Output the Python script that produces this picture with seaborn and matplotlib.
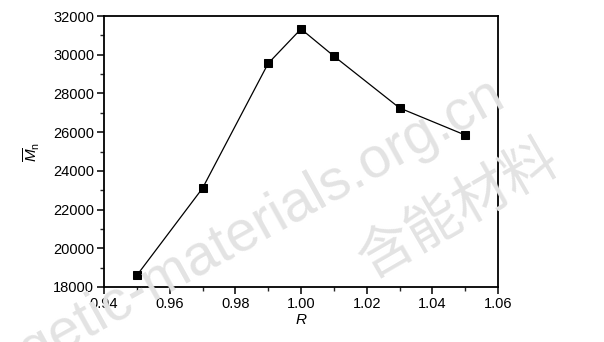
import matplotlib
matplotlib.use("Agg")
import matplotlib.pyplot as plt
from matplotlib.ticker import MultipleLocator
import seaborn as sns
import pandas as pd

# Molar ratio R and number-average molecular weight
ratio_r = [0.95, 0.97, 0.99, 1.00, 1.01, 1.03, 1.05]
mn_values = [18600, 23100, 29550, 31330, 29930, 27250, 25850]
x_ticks = [0.94, 0.96, 0.98, 1.00, 1.02, 1.04, 1.06]
y_ticks = [18000, 20000, 22000, 24000, 26000, 28000, 30000, 32000]

sns.set_theme(style="white")
plt.rcParams["font.family"] = ["Liberation Sans", "Noto Sans CJK SC", "DejaVu Sans"]
plt.rcParams["mathtext.fontset"] = "custom"
plt.rcParams["mathtext.rm"] = "Liberation Sans"
plt.rcParams["mathtext.it"] = "Liberation Sans:italic"

df = pd.DataFrame({"R": ratio_r, "Mn": mn_values})

fig = plt.figure(figsize=(6.04, 3.42), dpi=100)
ax = fig.add_axes([104 / 604, 1 - 287 / 342, (498 - 104) / 604, (287 - 16) / 342])
ax.patch.set_alpha(0)

sns.lineplot(data=df, x="R", y="Mn", ax=ax, color="black", linewidth=0.9,
             marker="s", markersize=5.5, markeredgecolor="black",
             markerfacecolor="black", zorder=3)

ax.set_xlim(0.94, 1.06)
ax.set_ylim(18000, 32000)
ax.set_xticks(x_ticks)
ax.set_xticklabels([f"{v:.2f}" for v in x_ticks])
ax.set_yticks(y_ticks)
ax.set_yticklabels([str(v) for v in y_ticks])
ax.xaxis.set_minor_locator(MultipleLocator(0.01))
ax.yaxis.set_minor_locator(MultipleLocator(1000))

ax.tick_params(axis="both", which="major", direction="out", length=5, width=1.1,
               labelsize=10.5, colors="black", pad=2,
               bottom=True, left=True, top=False, right=False)
ax.tick_params(axis="both", which="minor", direction="out", length=3, width=1.0,
               bottom=True, left=True, top=False, right=False)

for side in ["left", "bottom", "top", "right"]:
    ax.spines[side].set_visible(True)
    ax.spines[side].set_color("black")
    ax.spines[side].set_linewidth(1.3)

ax.set_xlabel("$R$", fontsize=11, color="black", labelpad=2)
ax.set_ylabel(r"$\overline{M}_{\mathrm{n}}$", fontsize=11, color="black", labelpad=8)
ax.grid(False)

# Site watermark
fig.text(508 / 604, 1 - 104 / 342, "energetic-materials.org.cn", fontsize=41,
         color="#e3e3e3", rotation=29, rotation_mode="anchor",
         ha="right", va="baseline", zorder=0,
         family=["Liberation Sans", "DejaVu Sans"])
fig.text(458 / 604, 1 - 210 / 342, "含能材料", fontsize=40,
         color="#e3e3e3", rotation=30, rotation_mode="anchor",
         ha="center", va="center", zorder=0, fontweight="light",
         family=["Noto Sans CJK SC", "DejaVu Sans"])

fig.savefig("out.png", dpi=100, facecolor="white")
